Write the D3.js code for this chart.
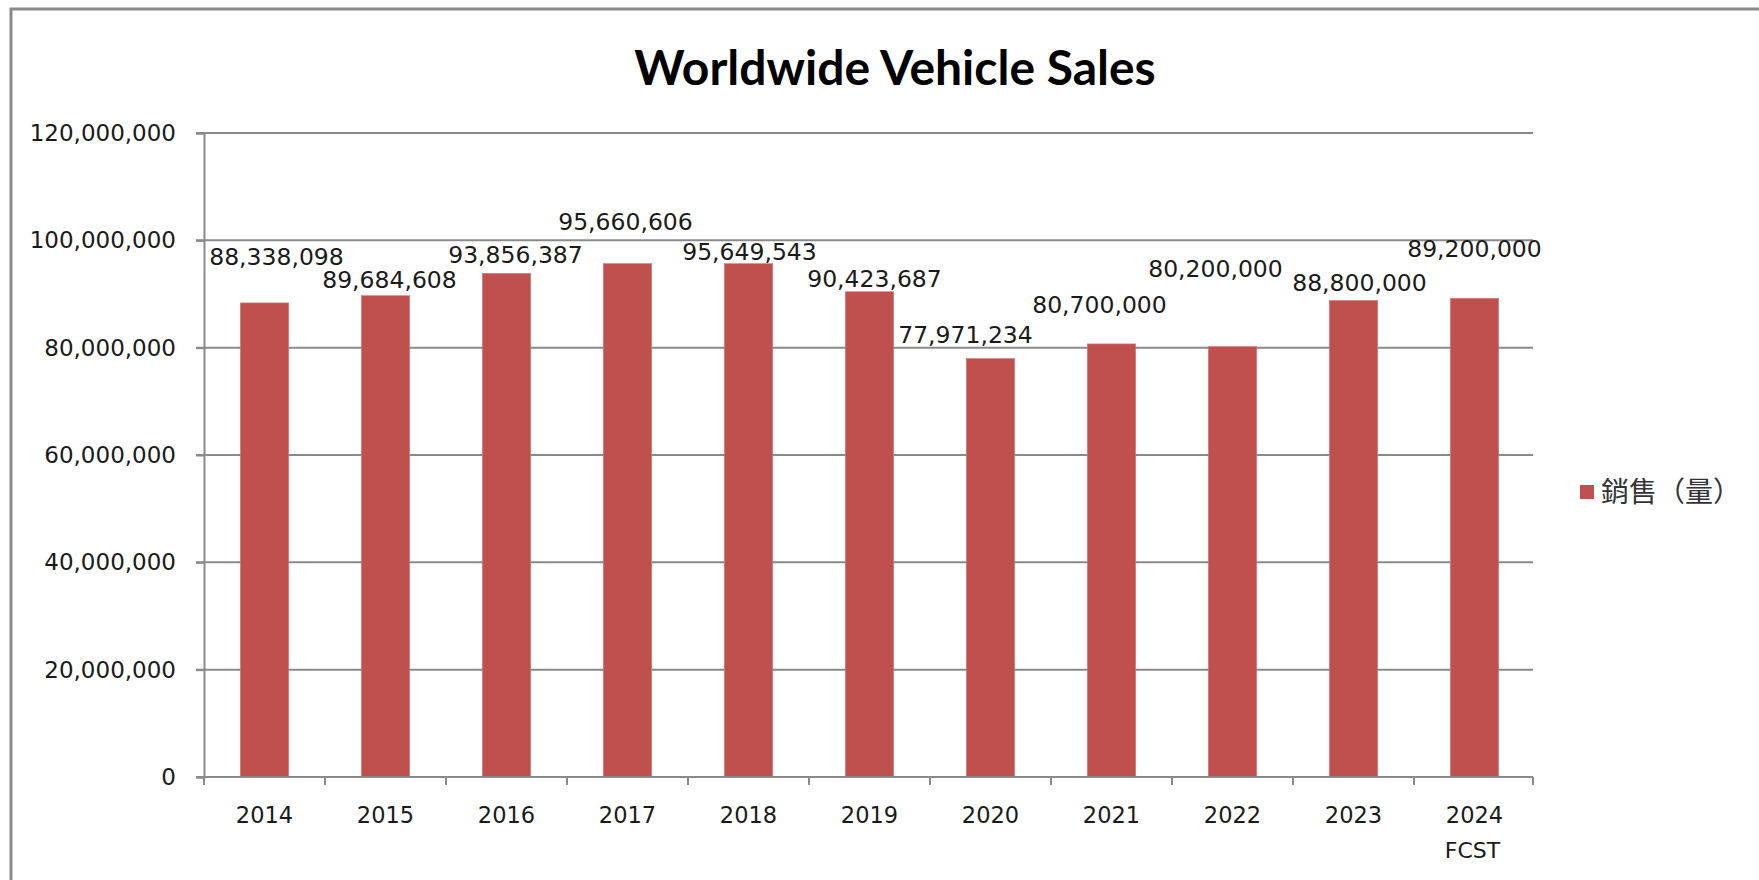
<!DOCTYPE html>
<html>
<head>
<meta charset="utf-8">
<script src="https://cdn.jsdelivr.net/npm/d3@7"></script>
<style>
  body { margin: 0; background: #fff; }
  svg { display: block; }
</style>
</head>
<body>
<svg id="chart" width="1759" height="880"></svg>
<script>
// data
const years = ['2014', '2015', '2016', '2017', '2018', '2019', '2020', '2021', '2022', '2023', '2024'];
const yearSub = ['', '', '', '', '', '', '', '', '', '', 'FCST'];
const sales = [88338098, 89684608, 93856387, 95660606, 95649543, 90423687, 77971234, 80700000, 80200000, 88800000, 89200000];
const yTicks = [0, 20000000, 40000000, 60000000, 80000000, 100000000, 120000000];
const seriesName = '銷售（量）';
const title = 'Worldwide Vehicle Sales';

// hand-placed data labels in the original (pixel nudges from bar top centre)
const labelDx = [12, 4, 9, -2, 1, 5, -25, -12, -17, 6, 0];
const labelDy = [-38, -8, -10, -34, -4, -5, -16, -31, -70, -9, -41];

const svg = d3.select('#chart');
const grey = '#8a8a8a';
const barColor = '#C0504D';
const numFont = '"DejaVu Sans", sans-serif';

// outer frame (cropped, only left and top edges visible)
svg.append('path')
  .attr('d', 'M11,880 L11,9 L1759,9')
  .attr('fill', 'none')
  .attr('stroke', grey)
  .attr('stroke-width', 3);

svg.append('text')
  .attr('x', 895)
  .attr('y', 85)
  .attr('text-anchor', 'middle')
  .attr('font-family', 'Lato, sans-serif')
  .attr('font-weight', 'bold')
  .attr('font-size', '48px')
  .attr('fill', '#000')
  .text(title);

const plot = { left: 204, right: 1535, top: 133, bottom: 777 };

const x = d3.scaleBand()
  .domain(years)
  .range([plot.left, plot.right])
  .paddingInner(0.6)
  .paddingOuter(0.3);

const y = d3.scaleLinear()
  .domain([0, 120000000])
  .range([plot.bottom, plot.top]);

const step = x.step();
const fmt = d3.format(',');

// gridlines
svg.append('g')
  .selectAll('line')
  .data(yTicks.filter((d) => d > 0))
  .join('line')
  .attr('x1', plot.left - 8)
  .attr('x2', plot.right - 2)
  .attr('y1', (d) => y(d))
  .attr('y2', (d) => y(d))
  .attr('stroke', grey)
  .attr('stroke-width', 2);

// bars
svg.append('g')
  .selectAll('rect')
  .data(sales)
  .join('rect')
  .attr('x', (d, i) => x(years[i]))
  .attr('y', (d) => y(d))
  .attr('width', x.bandwidth())
  .attr('height', (d) => y(0) - y(d))
  .attr('fill', barColor)
  .attr('stroke', '#d77a77')
  .attr('stroke-width', 0.6);

// y axis
const yAxis = svg.append('g')
  .attr('transform', `translate(${plot.left},0)`)
  .call(d3.axisLeft(y).tickValues(yTicks).tickFormat(fmt).tickSize(8).tickPadding(20));
yAxis.select('.domain').attr('stroke', grey).attr('stroke-width', 2);
yAxis.selectAll('.tick line').attr('stroke', grey).attr('stroke-width', 2);
yAxis.selectAll('.tick text')
  .attr('font-family', numFont)
  .attr('font-size', '23px')
  .attr('fill', '#1a1a1a');

// x axis: line + ticks at category boundaries
const xg = svg.append('g');
xg.append('line')
  .attr('x1', plot.left - 8)
  .attr('x2', plot.right - 2)
  .attr('y1', plot.bottom)
  .attr('y2', plot.bottom)
  .attr('stroke', grey)
  .attr('stroke-width', 2);
xg.selectAll('line.tk')
  .data(d3.range(years.length + 1))
  .join('line')
  .attr('class', 'tk')
  .attr('x1', (i) => plot.left + i * step - (i === years.length ? 2 : 0))
  .attr('x2', (i) => plot.left + i * step - (i === years.length ? 2 : 0))
  .attr('y1', plot.bottom)
  .attr('y2', plot.bottom + 8)
  .attr('stroke', grey)
  .attr('stroke-width', 2);
xg.selectAll('text.yr')
  .data(years)
  .join('text')
  .attr('class', 'yr')
  .attr('x', (d) => x(d) + x.bandwidth() / 2)
  .attr('y', 823)
  .attr('text-anchor', 'middle')
  .attr('font-family', numFont)
  .attr('font-size', '22.5px')
  .attr('fill', '#1a1a1a')
  .text((d) => d);
xg.selectAll('text.sub')
  .data(yearSub)
  .join('text')
  .attr('class', 'sub')
  .attr('x', (d, i) => x(years[i]) + x.bandwidth() / 2 - 2)
  .attr('y', 858)
  .attr('text-anchor', 'middle')
  .attr('font-family', numFont)
  .attr('font-size', '22px')
  .attr('fill', '#1a1a1a')
  .text((d) => d);

// data labels
svg.append('g')
  .selectAll('text')
  .data(sales)
  .join('text')
  .attr('x', (d, i) => x(years[i]) + x.bandwidth() / 2 + labelDx[i])
  .attr('y', (d, i) => y(d) + labelDy[i])
  .attr('text-anchor', 'middle')
  .attr('font-family', numFont)
  .attr('font-size', '23.5px')
  .attr('fill', '#1a1a1a')
  .text((d) => fmt(d));

// legend
const lg = svg.append('g').attr('transform', 'translate(1580,485)');
lg.append('rect')
  .attr('width', 14)
  .attr('height', 14)
  .attr('fill', barColor);
lg.append('text')
  .attr('x', 21)
  .attr('y', 17)
  .attr('font-family', '"Noto Sans CJK TC", sans-serif')
  .attr('font-weight', 400)
  .attr('font-size', '28px')
  .attr('fill', '#333')
  .text(seriesName);
</script>
</body>
</html>
